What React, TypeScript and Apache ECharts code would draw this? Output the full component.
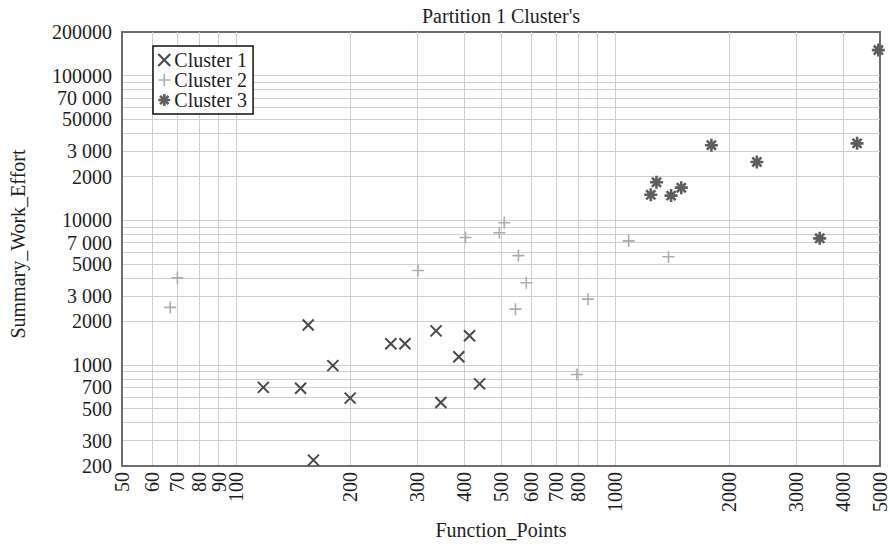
import React, { useEffect, useRef } from "react";
import * as echarts from "echarts";

const chartTitle = "Partition 1 Cluster's";
const xAxisName = "Function_Points";
const yAxisName = "Summary_Work_Effort";
const seriesNames = ["Cluster 1", "Cluster 2", "Cluster 3"];

const cluster1FP = [118, 148, 155, 180, 200, 160, 256, 279, 337, 347, 387, 413, 439];
const cluster1Effort = [700, 690, 1890, 990, 590, 220, 1400, 1400, 1720, 550, 1140, 1590, 740];
const cluster2FP = [67, 70, 302, 403, 495, 510, 556, 583, 546, 848, 793, 1086, 1383];
const cluster2Effort = [2500, 4000, 4500, 7600, 8200, 9600, 5700, 3700, 2430, 2850, 860, 7200, 5600];
const cluster3FP = [1795, 2366, 4350, 1286, 1242, 1405, 1495, 3466, 4950];
const cluster3Effort = [33000, 25300, 34000, 18300, 15000, 14800, 16800, 7500, 150000];

const xGridValues = [60, 70, 80, 90, 100, 200, 300, 400, 500, 600, 700, 800, 900, 1000, 2000, 3000, 4000];
const xLabelValues = [50, 60, 70, 80, 90, 100, 200, 300, 400, 500, 600, 700, 800, 1000, 2000, 3000, 4000, 5000];
const xTickLabels = ["50", "60", "70", "80", "90", "100", "200", "300", "400", "500", "600", "700", "800", "1000", "2000", "3000", "4000", "5000"];

const yGridValues = [
  300, 400, 500, 600, 700, 800, 900,
  1000, 2000, 3000, 4000, 5000, 6000, 7000, 8000, 9000,
  10000, 20000, 30000, 40000, 50000, 60000, 70000, 80000, 90000,
  100000,
];
const yLabelValues = [200, 300, 500, 700, 1000, 2000, 3000, 5000, 7000, 10000, 20000, 30000, 50000, 70000, 100000, 200000];
const yTickLabels = ["200", "300", "500", "700", "1000", "2000", "3 000", "5000", "7 000", "10000", "2000", "3 000", "50000", "70 000", "100000", "200000"];

const FONT = "Liberation Serif";

const crossPath = "path://M0,0L10,10M10,0L0,10";
const plusPath = "path://M5,0L5,10M0,5L10,5";
const starPath = "path://M5,0L5,10M0,5L10,5M1.5,1.5L8.5,8.5M8.5,1.5L1.5,8.5";

const styles = [
  { symbol: crossPath, size: 11, color: "#4a4a4a", width: 2 },
  { symbol: plusPath, size: 12, color: "#adadad", width: 1.6 },
  { symbol: starPath, size: 13, color: "#5e5e5e", width: 2.6 },
];

function zip(xs: number[], ys: number[]) {
  return xs.map((x, i) => [x, ys[i]]);
}

export default function App() {
  const ref = useRef<HTMLDivElement>(null);
  useEffect(() => {
    if (!ref.current) return;
    const chart = echarts.init(ref.current, undefined, { renderer: "svg" });
    const datasets = [
      zip(cluster1FP, cluster1Effort),
      zip(cluster2FP, cluster2Effort),
      zip(cluster3FP, cluster3Effort),
    ];
    const textColor = "#1e1e1e";
    chart.setOption({
      animation: false,
      backgroundColor: "#ffffff",
      title: {
        text: chartTitle,
        left: 417,
        top: 1,
        textStyle: { fontFamily: FONT, fontSize: 20, fontWeight: "normal", color: textColor },
      },
      legend: {
        orient: "vertical",
        left: 153,
        top: 46,
        padding: [4, 6, 4, 4],
        itemGap: 0,
        itemWidth: 12,
        itemHeight: 12,
        borderColor: "#111",
        borderWidth: 1.5,
        backgroundColor: "#fff",
        textStyle: { fontFamily: FONT, fontSize: 20, color: textColor, padding: [0, 0, 0, -1] },
        data: seriesNames.map((n, i) => ({
          name: n,
          icon: styles[i].symbol,
          itemStyle: { color: styles[i].color, borderColor: styles[i].color, borderWidth: styles[i].width },
        })),
      },
      grid: {
        left: 122,
        right: 4,
        top: 32,
        bottom: 74,
        show: true,
        borderColor: "#6e6e6e",
        borderWidth: 2,
        backgroundColor: "transparent",
      },
      xAxis: {
        type: "log",
        logBase: 10,
        min: 50,
        max: 5000,
        name: xAxisName,
        nameLocation: "middle",
        nameGap: 45,
        nameTextStyle: { fontFamily: FONT, fontSize: 20, color: textColor },
        axisLine: { show: true, lineStyle: { color: "#6e6e6e", width: 2 } },
        axisTick: { show: false, customValues: xGridValues },
        axisLabel: {
          customValues: xLabelValues,
          rotate: 90,
          margin: 6,
          fontFamily: FONT,
          fontSize: 20,
          color: textColor,
          formatter: (v: number) => {
            const idx = xLabelValues.findIndex((t) => Math.abs(t - v) < 1e-6 * t);
            return idx >= 0 ? xTickLabels[idx] : "";
          },
        },
        splitLine: { show: true, lineStyle: { color: "#cfcfcf", width: 1 } },
      },
      yAxis: {
        type: "log",
        logBase: 10,
        min: 200,
        max: 200000,
        name: yAxisName,
        nameLocation: "middle",
        nameGap: 94,
        nameTextStyle: { fontFamily: FONT, fontSize: 20, color: textColor, padding: [0, 0, 0, 10] },
        axisLine: { show: true, lineStyle: { color: "#6e6e6e", width: 2 } },
        axisTick: { show: false, customValues: yGridValues },
        axisLabel: {
          customValues: yLabelValues,
          margin: 10,
          fontFamily: FONT,
          fontSize: 20,
          color: textColor,
          formatter: (v: number) => {
            const idx = yLabelValues.findIndex((t) => Math.abs(t - v) < 1e-6 * t);
            return idx >= 0 ? yTickLabels[idx] : "";
          },
        },
        splitLine: { show: true, lineStyle: { color: "#cfcfcf", width: 1 } },
      },
      series: seriesNames.map((n, i) => ({
        name: n,
        type: "scatter",
        data: datasets[i],
        symbol: styles[i].symbol,
        symbolSize: styles[i].size,
        itemStyle: { color: styles[i].color, borderColor: styles[i].color, borderWidth: styles[i].width, opacity: 1 },
        emphasis: { disabled: true },
        z: 3,
      })),
    });
    return () => chart.dispose();
  }, []);
  return (
    <div
      ref={ref}
      style={{ position: "fixed", left: 0, top: 0, width: 890, height: 545 }}
    />
  );
}
